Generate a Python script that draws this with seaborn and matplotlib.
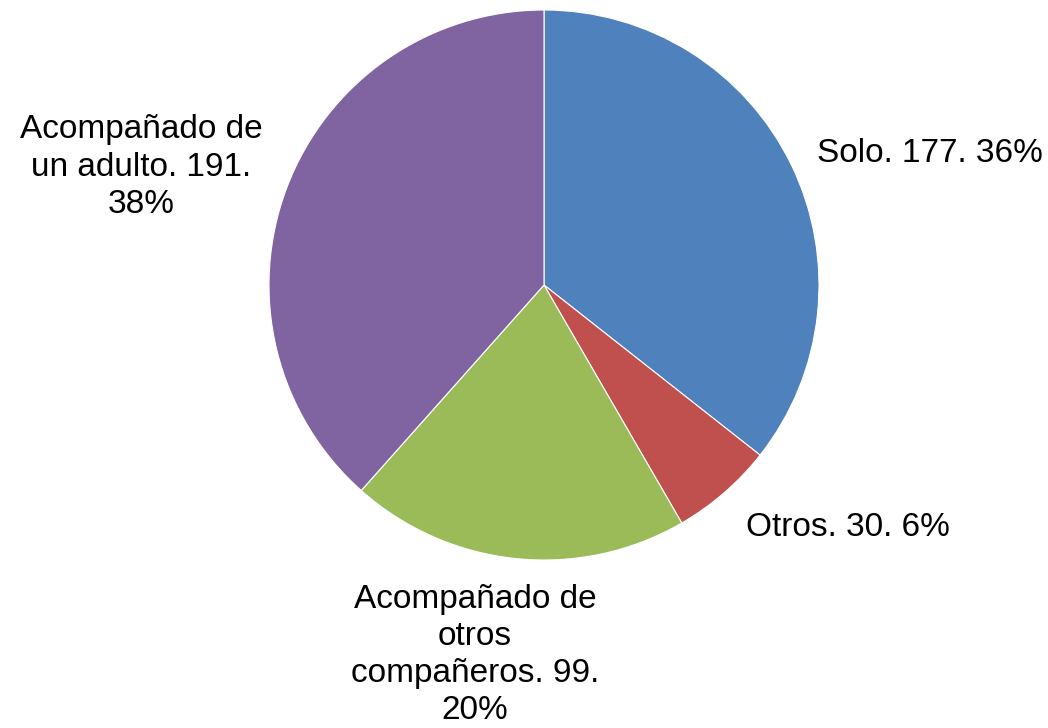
import matplotlib
matplotlib.use("Agg")
import matplotlib.pyplot as plt
import seaborn as sns

categories = ["Solo", "Otros", "Acompañado de otros compañeros", "Acompañado de un adulto"]
values = [177, 30, 99, 191]
percents = ["36%", "6%", "20%", "38%"]
label_texts = [
    "Solo. 177. 36%",
    "Otros. 30. 6%",
    "Acompañado de\notros\ncompañeros. 99.\n20%",
    "Acompañado de\nun adulto. 191.\n38%",
]
colors = ["#4F81BD", "#C0504D", "#9BBB59", "#8064A2"]

sns.set_theme(style="white")
plt.rcParams['font.family'] = ['Liberation Sans', 'DejaVu Sans']

fig = plt.figure(figsize=(10.48, 7.28), dpi=100)
W, H = 1048, 728
cx, cy, r = 544, 285, 275
ax = fig.add_axes([(cx - r) / W, (H - cy - r) / H, 2 * r / W, 2 * r / H])
ax.pie(values, colors=colors, startangle=90, counterclock=False,
       wedgeprops=dict(edgecolor="white", linewidth=0.8), radius=1.0)
ax.set_xlim(-1, 1)
ax.set_ylim(-1, 1)
ax.set_aspect("equal")
ax.axis("off")

label_pos_px = [(930, 153), (848, 528), (475, 655), (141, 167)]
for txt, (px, py) in zip(label_texts, label_pos_px):
    ax.text((px - cx) / r, (cy - py) / r, txt, ha="center", va="center",
            fontsize=24, color="black", linespacing=1.26)

fig.savefig("out.png", dpi=100)
